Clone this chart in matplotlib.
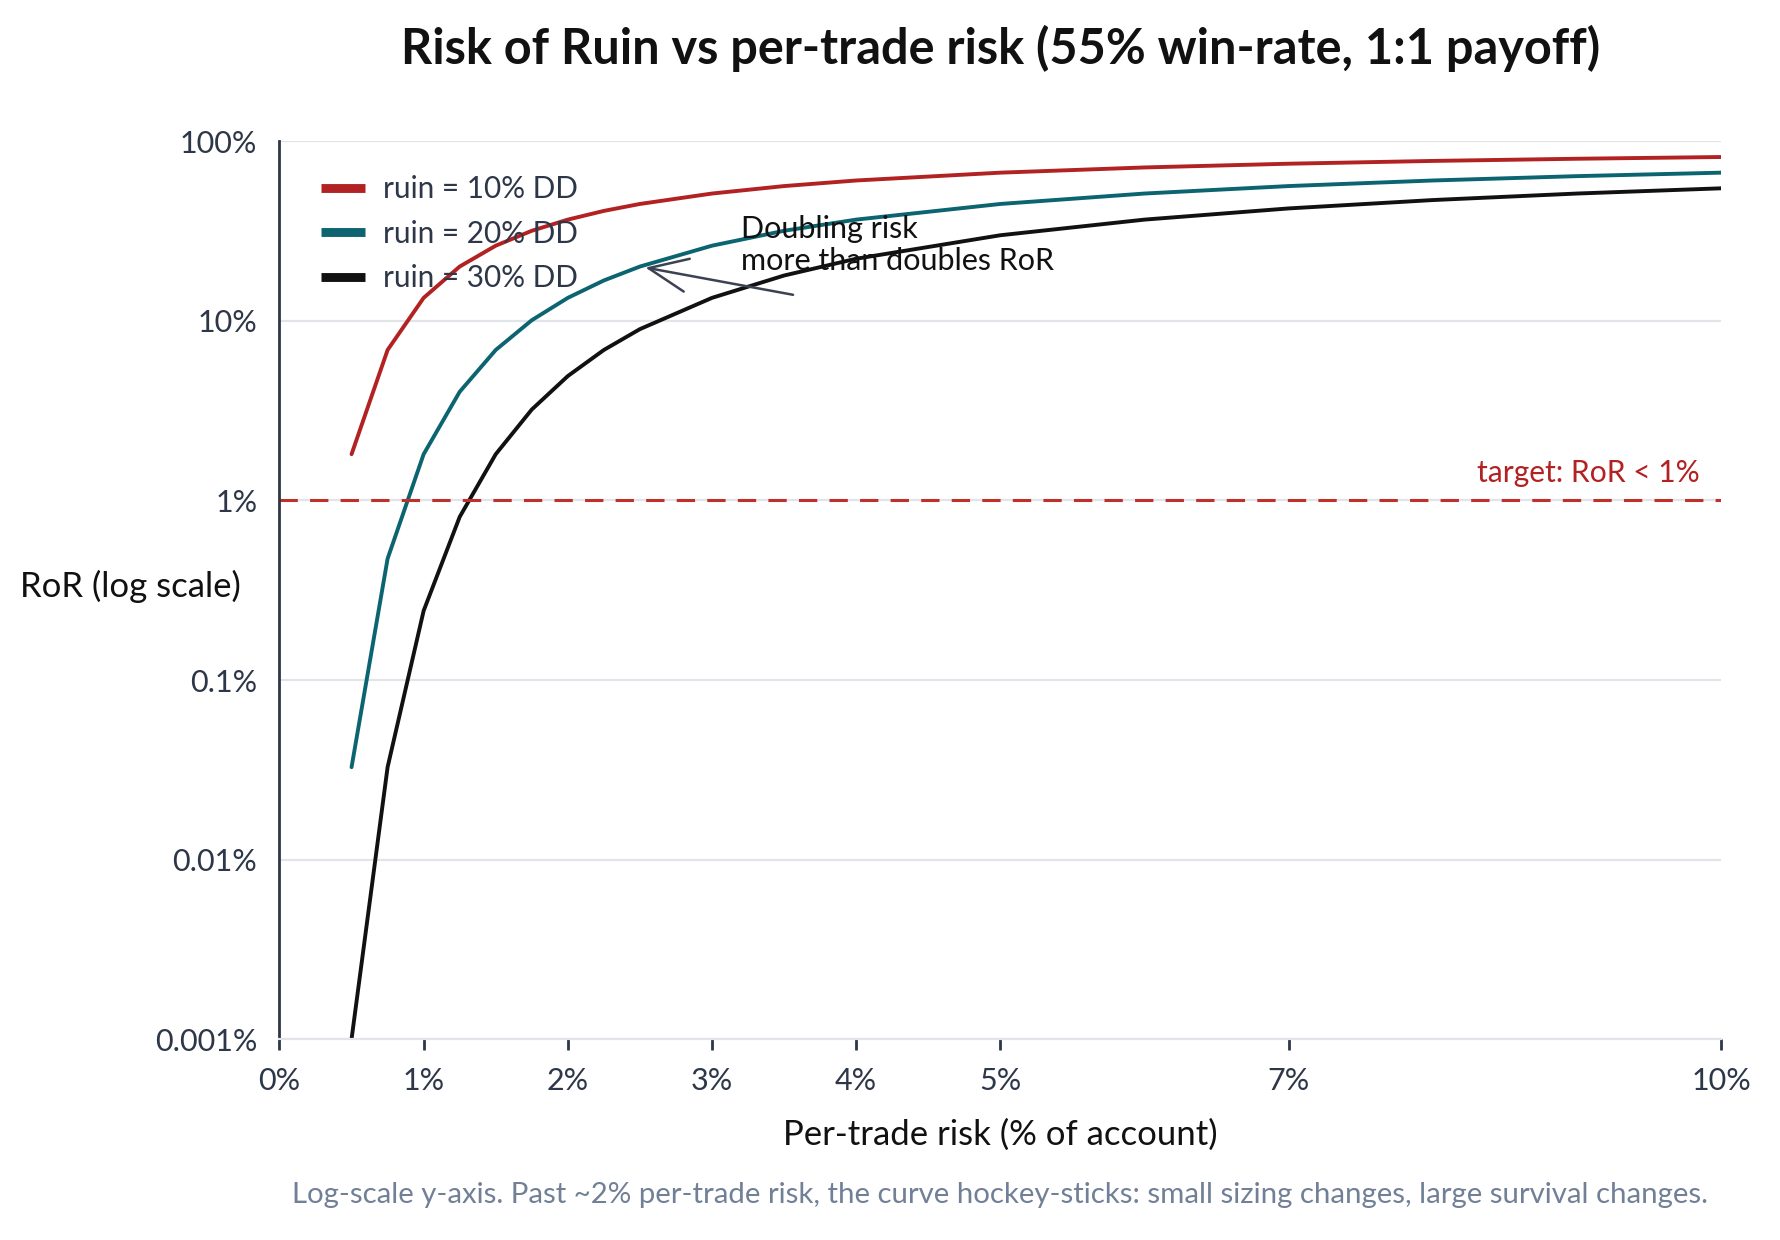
import numpy as np
import matplotlib
matplotlib.use("Agg")
import matplotlib.pyplot as plt

plt.rcParams['font.family'] = ['Lato', 'DejaVu Sans']

# per-trade risk (% of account)
risk = [0.5, 0.75, 1.0, 1.25, 1.5, 1.75, 2.0, 2.25, 2.5, 3.0, 3.5, 4.0, 5.0, 6.0, 7.0, 8.0, 9.0, 10.0]

# risk of ruin (%), 55% win-rate, 1:1 payoff
ror_10 = [1.81, 6.89, 13.44, 20.08, 26.24, 31.77, 36.66, 40.99, 44.81, 51.22, 56.36, 60.55,
          66.94, 71.57, 75.08, 77.81, 80.01, 81.82]
ror_20 = [0.0327, 0.474, 1.81, 4.03, 6.89, 10.09, 13.44, 16.80, 20.08, 26.24, 31.77, 36.66,
          44.81, 51.22, 56.37, 60.55, 64.02, 66.94]
ror_30 = [0.001, 0.0327, 0.243, 0.810, 1.81, 3.21, 4.93, 6.89, 9.00, 13.44, 17.90, 22.20,
          30.00, 36.66, 42.32, 47.11, 51.22, 54.77]

labels = ["ruin = 10% DD", "ruin = 20% DD", "ruin = 30% DD"]
colors = ["#b22222", "#0b6470", "#111111"]

xticks = [0, 1, 2, 3, 4, 5, 7, 10]
yticks = [0.001, 0.01, 0.1, 1, 10, 100]
ytick_labels = ["0.001%", "0.01%", "0.1%", "1%", "10%", "100%"]

target = 1.0
dark = "#2d3748"
grid_c = "#e2e4ea"

fig = plt.figure(figsize=(8.9, 6.2), dpi=200)
ax = fig.add_axes([0.157, 0.162, 0.81, 0.724])

for ys, lab, c in zip([ror_10, ror_20, ror_30], labels, colors):
    ax.plot(risk, ys, color=c, lw=1.4, label=lab, solid_capstyle="round")

ax.set_yscale("log")
ax.set_ylim(0.001, 100)
ax.set_xlim(0, 10)
ax.set_yticks(yticks)
ax.set_yticklabels(ytick_labels)
ax.yaxis.set_minor_locator(matplotlib.ticker.NullLocator())
ax.set_xticks(xticks)
ax.set_xticklabels([f"{t}%" for t in xticks])

ax.grid(axis="y", color=grid_c, lw=0.8)
ax.set_axisbelow(True)
for s in ["top", "right"]:
    ax.spines[s].set_visible(False)
ax.spines["bottom"].set_color(grid_c)
ax.spines["left"].set_color(dark)
ax.spines["left"].set_linewidth(1.0)
ax.tick_params(axis="y", length=0, pad=8, labelsize=11, labelcolor=dark)
ax.tick_params(axis="x", length=4, width=1.0, color=dark, pad=6, labelsize=11, labelcolor=dark)

# target line
ax.axhline(target, color="#c0302a", lw=1.1, ls=(0, (6, 4)))
ax.text(9.85, 1.42, "target: RoR < 1%", color="#b22222", fontsize=10.8, ha="right", va="center")

# annotation
ax.annotate("", xy=(2.5, 20.08), xytext=(3.6, 13.8),
            arrowprops=dict(arrowstyle="->,head_length=1.4,head_width=0.6", color="#3b4252", lw=0.9))
ax.text(3.2, 32.5, "Doubling risk", fontsize=11, ha="left", va="center", color="#111111")
ax.text(3.2, 21.5, "more than doubles RoR", fontsize=11, ha="left", va="center", color="#111111")

leg = ax.legend(loc="upper left", bbox_to_anchor=(0.01, 0.992), frameon=False, fontsize=10.7,
                handlelength=1.5, handletextpad=0.6, labelspacing=0.55)
for h in leg.get_lines():
    h.set_linewidth(3.2)
    h.set_solid_capstyle("butt")
for t in leg.get_texts():
    t.set_color(dark)

fig.text(0.562, 0.961, "Risk of Ruin vs per-trade risk (55% win-rate, 1:1 payoff)",
         ha="center", va="center", fontsize=17.5, fontweight="bold", color="#111111")
fig.text(0.562, 0.085, "Per-trade risk (% of account)", ha="center", va="center",
         fontsize=12.5, color="#111111")
fig.text(0.011, 0.527, "RoR (log scale)", ha="left", va="center", fontsize=12.5, color="#111111")
fig.text(0.562, 0.036, "Log-scale y-axis. Past ~2% per-trade risk, the curve hockey-sticks: "
         "small sizing changes, large survival changes.",
         ha="center", va="center", fontsize=10.6, color="#718096")

fig.savefig("out.png", dpi=200)
